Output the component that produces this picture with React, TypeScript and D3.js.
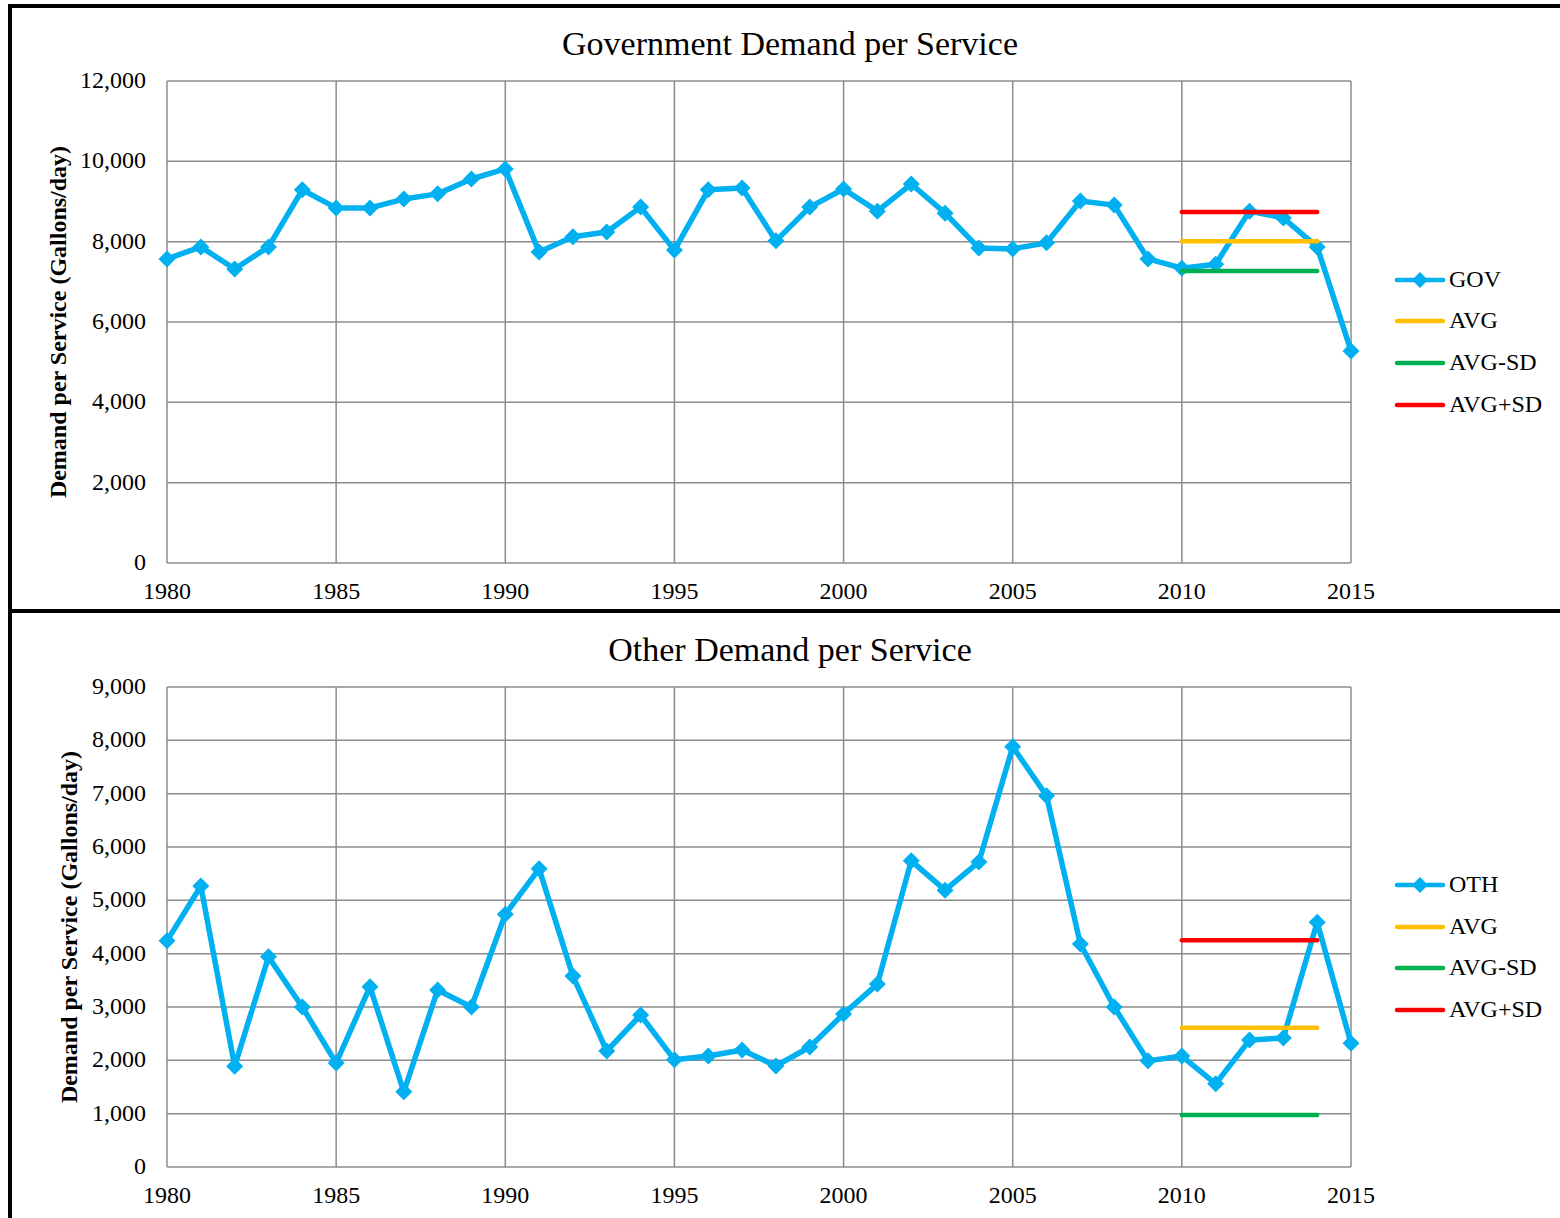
import React from 'react';
import * as d3 from 'd3';

const years = d3.range(1980, 2016);

const govValues = [
  7570, 7870, 7320, 7870, 9290, 8840, 8840, 9060, 9190, 9560,
  9810, 7740, 8120, 8240, 8860, 7790, 9290, 9335, 8020, 8860,
  9310, 8760, 9435, 8710, 7840, 7820, 7970, 9010, 8910, 7570,
  7340, 7440, 8760, 8590, 7870, 5280,
];

const othValues = [
  4240, 5270, 1890, 3940, 3000, 1950, 3380, 1410, 3320, 3000,
  4740, 5590, 3580, 2175, 2850, 2010, 2080, 2195, 1895, 2250,
  2870, 3430, 5740, 5190, 5720, 7880, 6960, 4180, 3000, 1990,
  2080, 1560, 2380, 2420, 4590, 2320,
];

const govStats = { avg: 8010, minus: 7270, plus: 8740 };
const othStats = { avg: 2610, minus: 975, plus: 4250 };
const statRange = [2010, 2014];

const xTicks = [1980, 1985, 1990, 1995, 2000, 2005, 2010, 2015];
const govTicks = [0, 2000, 4000, 6000, 8000, 10000, 12000];
const othTicks = [0, 1000, 2000, 3000, 4000, 5000, 6000, 7000, 8000, 9000];

const COLORS = { series: '#00B0F0', avg: '#FFC000', minus: '#00B050', plus: '#FF0000', grid: '#8C8C8C' };
const FONT = '"Liberation Serif", "Times New Roman", serif';

type PanelProps = {
  top: number;
  plotTop: number;
  plotBottom: number;
  title: string;
  seriesName: string;
  values: number[];
  stats: { avg: number; minus: number; plus: number };
  ticks: number[];
  yMax: number;
  yTitleX: number;
  legendY: number[];
};

function Panel({ plotTop, plotBottom, title, seriesName, values, stats, ticks, yMax, yTitleX, legendY, top }: PanelProps) {
  const x = d3.scaleLinear().domain([1980, 2015]).range([167, 1351]);
  const y = d3.scaleLinear().domain([0, yMax]).range([plotBottom, plotTop]);
  const fmt = d3.format(',');
  const line = d3.line<number>().x((_, i) => x(years[i])).y(d => y(d));
  const diamond = (cx: number, cy: number, r: number) =>
    `M${cx},${cy - r}L${cx + r},${cy}L${cx},${cy + r}L${cx - r},${cy}Z`;

  const statLines = [
    { key: 'avg', v: stats.avg, color: COLORS.avg },
    { key: 'minus', v: stats.minus, color: COLORS.minus },
    { key: 'plus', v: stats.plus, color: COLORS.plus },
  ];
  const legend = [
    { label: seriesName, color: COLORS.series, marker: true },
    { label: 'AVG', color: COLORS.avg, marker: false },
    { label: 'AVG-SD', color: COLORS.minus, marker: false },
    { label: 'AVG+SD', color: COLORS.plus, marker: false },
  ];

  return (
    <g fontFamily={FONT}>
      <text x={790} y={top + 47} textAnchor="middle" fontSize={34} dominantBaseline="middle">{title}</text>

      {/* gridlines */}
      {ticks.map(t => (
        <line key={'h' + t} x1={167} x2={1351} y1={y(t)} y2={y(t)} stroke={COLORS.grid} strokeWidth={1.5} />
      ))}
      {xTicks.map(t => (
        <line key={'v' + t} x1={x(t)} x2={x(t)} y1={plotTop} y2={plotBottom} stroke={COLORS.grid} strokeWidth={1.5} />
      ))}

      {/* tick labels */}
      {ticks.map(t => (
        <text key={'yl' + t} x={146} y={y(t) + 1.5} textAnchor="end" dominantBaseline="middle" fontSize={24}>{fmt(t)}</text>
      ))}
      {xTicks.map(t => (
        <text key={'xl' + t} x={x(t)} y={plotBottom + 30} textAnchor="middle" dominantBaseline="middle" fontSize={24}>{t}</text>
      ))}

      <text
        transform={`translate(${yTitleX},${(plotTop + plotBottom) / 2}) rotate(-90)`}
        textAnchor="middle"
        dominantBaseline="middle"
        fontSize={24}
        fontWeight="bold"
      >
        Demand per Service (Gallons/day)
      </text>

      {/* series */}
      <path d={line(values) || ''} fill="none" stroke={COLORS.series} strokeWidth={5.5} strokeLinejoin="round" />
      {values.map((v, i) => (
        <path key={'m' + i} d={diamond(x(years[i]), y(v), 8.5)} fill={COLORS.series} />
      ))}

      {/* avg and sd lines */}
      {statLines.map(s => (
        <line key={s.key} x1={x(statRange[0])} x2={x(statRange[1])} y1={y(s.v)} y2={y(s.v)}
          stroke={s.color} strokeWidth={4.5} strokeLinecap="round" />
      ))}

      {/* legend */}
      {legend.map((l, i) => (
        <g key={l.label} transform={`translate(0,${legendY[i]})`}>
          <line x1={1397} x2={1443} y1={0} y2={0} stroke={l.color} strokeWidth={4.5} strokeLinecap="round" />
          {l.marker && <path d={diamond(1420, 0, 8)} fill={l.color} />}
          <text x={1449} y={1.5} dominantBaseline="middle" fontSize={24}>{l.label}</text>
        </g>
      ))}
    </g>
  );
}

export default function App() {
  return (
    <svg width={1560} height={1218} style={{ position: 'absolute', left: 0, top: 0, background: '#fff' }}>
      <rect x={0} y={0} width={1560} height={1218} fill="#fff" />
      <Panel
        top={0}
        plotTop={81}
        plotBottom={563}
        title="Government Demand per Service"
        seriesName="GOV"
        values={govValues}
        stats={govStats}
        ticks={govTicks}
        yMax={12000}
        yTitleX={60}
        legendY={[280, 321, 363, 405]}
      />
      <Panel
        top={606}
        plotTop={687}
        plotBottom={1167}
        title="Other Demand per Service"
        seriesName="OTH"
        values={othValues}
        stats={othStats}
        ticks={othTicks}
        yMax={9000}
        yTitleX={71}
        legendY={[885, 927, 968, 1010]}
      />
      {/* frame */}
      <line x1={8} x2={1560} y1={6} y2={6} stroke="#000" strokeWidth={4} />
      <line x1={10} x2={10} y1={4} y2={1218} stroke="#000" strokeWidth={4} />
      <line x1={8} x2={1560} y1={611} y2={611} stroke="#000" strokeWidth={4} />
    </svg>
  );
}
